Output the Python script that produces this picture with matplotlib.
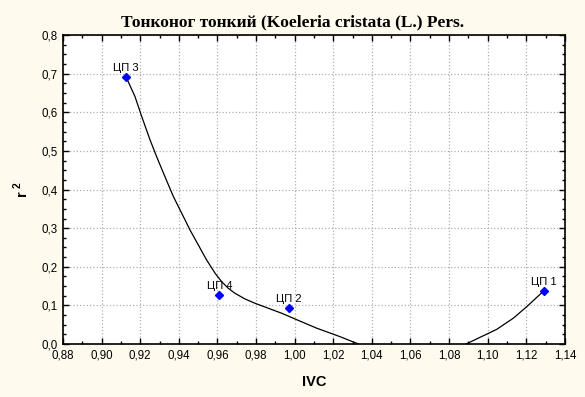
import matplotlib
matplotlib.use('Agg')
import matplotlib.pyplot as plt
from matplotlib.ticker import MultipleLocator, FuncFormatter

plt.rcParams['font.family'] = ['Liberation Sans', 'DejaVu Sans']
plt.rcParams['mathtext.fontset'] = 'custom'
plt.rcParams['mathtext.rm'] = 'Liberation Sans'
plt.rcParams['mathtext.bf'] = 'Liberation Sans:bold'

# sample points
labels = ['ЦП 1', 'ЦП 2', 'ЦП 3', 'ЦП 4']
ivc = [1.129, 0.997, 0.9126, 0.961]
r2 = [0.137, 0.094, 0.692, 0.127]

# fitted curve (left branch and right branch)
curve_left_x = [0.9126, 0.9173, 0.9208, 0.9251, 0.9285, 0.9328, 0.9372, 0.9415,
                0.9458, 0.9501, 0.9541, 0.9588, 0.9622, 0.9656, 0.9691, 0.9743,
                0.9795, 0.9864, 0.9933, 1.0002, 1.0114, 1.0235, 1.0330]
curve_left_y = [0.6925, 0.6407, 0.5889, 0.5285, 0.4852, 0.4334, 0.3816, 0.3386,
                0.2953, 0.2565, 0.2200, 0.1831, 0.1614, 0.1443, 0.1313, 0.1166,
                0.1054, 0.0925, 0.0796, 0.0648, 0.041, 0.019, 0.0]
curve_right_x = [1.0888, 1.1047, 1.1133, 1.1203, 1.1289]
curve_right_y = [0.0, 0.038, 0.067, 0.097, 0.137]

bg = '#fffaee'
fig = plt.figure(figsize=(5.85, 3.97), dpi=100, facecolor=bg)
ax = fig.add_axes([0.1077, 0.1335, 0.858, 0.778])
ax.set_facecolor('white')

ax.plot(curve_left_x, curve_left_y, color='black', lw=0.9, zorder=2)
ax.plot(curve_right_x, curve_right_y, color='black', lw=0.9, zorder=2)
ax.plot(ivc, r2, linestyle='none', marker='D', markersize=4,
        color='#0000ff', zorder=3)

for name, x, y in zip(labels, ivc, r2):
    ax.annotate(name, (x, y), xytext=(0, 3), textcoords='offset points',
                ha='center', va='bottom', fontsize=8, color='black')

ax.set_xlim(0.88, 1.14)
ax.set_ylim(0, 0.8)
ax.xaxis.set_major_locator(MultipleLocator(0.02))
ax.xaxis.set_minor_locator(MultipleLocator(0.01))
ax.yaxis.set_major_locator(MultipleLocator(0.1))
ax.yaxis.set_minor_locator(MultipleLocator(0.025))
ax.xaxis.set_major_formatter(FuncFormatter(lambda v, p: f'{v:.2f}'.replace('.', ',')))
ax.yaxis.set_major_formatter(FuncFormatter(lambda v, p: f'{v:.1f}'.replace('.', ',')))

ax.tick_params(which='both', direction='in', top=True, right=True,
               labelsize=8.3, width=1, pad=4)
ax.tick_params(which='major', length=4)
ax.tick_params(which='minor', length=2.5)
for s in ax.spines.values():
    s.set_linewidth(1.2)

ax.grid(True, which='major', linestyle=':', color='#b0b0b0', lw=0.9)
ax.set_axisbelow(True)

# title is centred on the whole figure, not on the axes
fig.text(0.5, 1 - 22 / 397, 'Тонконог тонкий (Koeleria cristata (L.) Pers.',
         family=['Liberation Serif', 'DejaVu Serif'], fontweight='bold',
         fontsize=12.5, ha='center', va='center')
ax.set_xlabel('IVC', fontweight='bold', fontsize=10.5, labelpad=10)
ax.set_ylabel(r'$\mathbf{r}^{\ \mathbf{2}}$', fontsize=10.5, labelpad=7)

fig.savefig('out.png', dpi=100, facecolor=bg)
